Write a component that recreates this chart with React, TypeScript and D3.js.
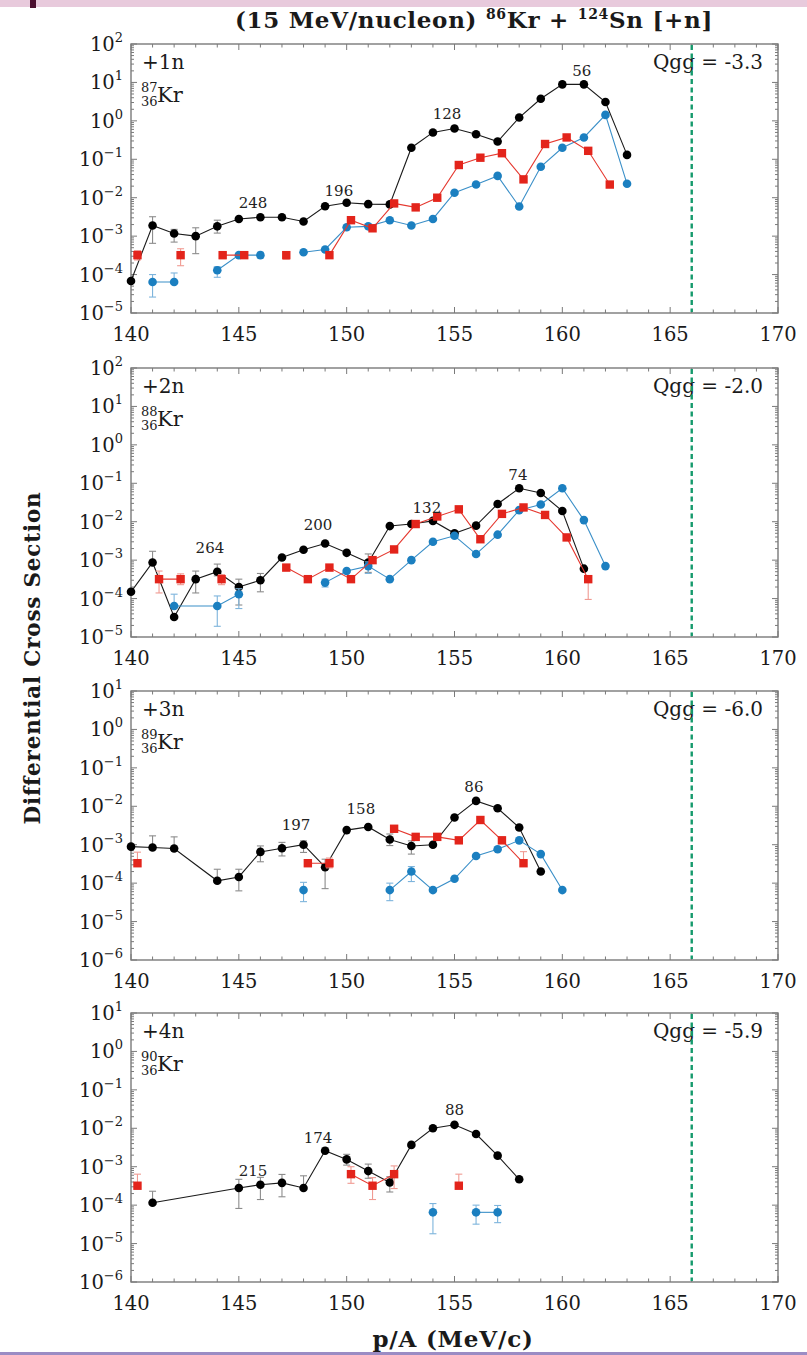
import React from 'react';
import * as d3 from 'd3';

type Pt = [number, number, (number | null)?, (number | null)?] | null;

// ---- data: [p/A, value, errLow, errHigh], null = line break ----
const black1: Pt[] = [
  [140, 6.8e-5], [141, 1.9e-3, 6.5e-4, 3.2e-3], [142, 1.17e-3, 7e-4, 1.5e-3], [143, 1.0e-3, 3.5e-4, 1.65e-3],
  [144, 1.8e-3, 1.2e-3, 2.6e-3], [145, 2.8e-3], [146, 3.1e-3], [147, 3.1e-3], [148, 2.4e-3], [149, 6.0e-3],
  [150, 7.4e-3], [151, 6.8e-3], [152, 6.7e-3], [153, 0.2], [154, 0.5], [155, 0.63], [156, 0.45], [157, 0.29],
  [158, 1.22], [159, 3.75], [160, 8.9], [161, 8.9], [162, 3.1], [163, 0.13],
];
const red1: Pt[] = [
  [140.3, 3.2e-4, 2.4e-4, 4.2e-4], null, [142.3, 3.2e-4, 1.7e-4, 4.7e-4], null,
  [144.25, 3.2e-4, 2.6e-4, 3.8e-4], [145.25, 3.2e-4], null, [147.2, 3.2e-4, 2.5e-4, 3.9e-4], null,
  [149.2, 3.2e-4], [150.2, 2.6e-3], [151.2, 1.6e-3], [152.2, 7.1e-3], [153.2, 5.6e-3], [154.2, 1.0e-2],
  [155.2, 7.1e-2], [156.2, 0.11], [157.2, 0.144], [158.2, 3.0e-2], [159.2, 0.25], [160.2, 0.37],
  [161.2, 0.166], [162.2, 2.2e-2],
];
const blue1: Pt[] = [
  [141, 6.4e-5, 2.6e-5, 1.0e-4], [142, 6.4e-5, null, 1.1e-4], null, [144, 1.3e-4, 8.5e-5, 1.6e-4],
  [145, 3.2e-4], [146, 3.2e-4, 2.7e-4, 3.8e-4], null, [148, 3.8e-4], [149, 4.5e-4], [150, 1.7e-3],
  [151, 1.8e-3], [152, 2.6e-3], [153, 1.9e-3], [154, 2.8e-3], [155, 1.35e-2], [156, 2.2e-2], [157, 3.7e-2],
  [158, 5.9e-3], [159, 6.4e-2], [160, 0.2], [161, 0.37], [162, 1.43], [163, 2.3e-2],
];
const labels1: [number, number, string][] = [[145.66, 5.4e-3, '248'], [149.64, 1.1e-2, '196'], [154.65, 1.1, '128'], [160.9, 14.7, '56']];

const black2: Pt[] = [
  [140, 1.5e-4], [141, 8.7e-4, null, 1.7e-3], [142, 3.3e-5], [143, 3.2e-4, 1.4e-4, 5.2e-4],
  [144, 5e-4, 3.9e-4, 7.9e-4], [145, 2e-4, 6.8e-5, 3.2e-4], [146, 3e-4, 1.5e-4, 4.5e-4], [147, 1.17e-3],
  [148, 1.86e-3], [149, 2.7e-3], [150, 1.55e-3], [151, 8.7e-4, 4.8e-4, 1.45e-3], [152, 7.7e-3], [153, 8.7e-3],
  [154, 1.05e-2], [155, 5e-3], [156, 7.9e-3], [157, 2.9e-2], [158, 7.4e-2], [159, 5.6e-2], [160, 1.9e-2],
  [161, 6e-4],
];
const red2: Pt[] = [
  [141.3, 3.2e-4, 1.4e-4, 5.2e-4], [142.3, 3.2e-4, 2.3e-4, 4.4e-4], null, [144.2, 3.2e-4, 2.3e-4, 4.2e-4], null,
  [147.2, 6.4e-4], [148.2, 3.2e-4], [149.2, 6.4e-4], [150.2, 3.2e-4], [151.2, 1e-3], [152.2, 1.9e-3],
  [153.2, 8.7e-3], [154.2, 1.37e-2], [155.2, 2.1e-2], [156.2, 3.5e-3], [157.2, 1.6e-2], [158.2, 2.35e-2],
  [159.2, 1.5e-2], [160.2, 3.9e-3], [161.2, 3.2e-4, 9.5e-5, null],
];
const blue2: Pt[] = [
  [142, 6.4e-5, null, 1.3e-4], [144, 6.4e-5, 1.9e-5, 1.17e-4], [145, 1.3e-4, 5.5e-5, 1.8e-4], null,
  [149, 2.6e-4, 2e-4, 3.2e-4], [150, 5.2e-4], [151, 7e-4, 4.5e-4, 9e-4], [152, 3.2e-4], [153, 1e-3],
  [154, 3e-3], [155, 4.3e-3], [156, 1.44e-3], [157, 4.6e-3], [158, 2e-2], [159, 2.8e-2], [160, 7.4e-2],
  [161, 1.1e-2], [162, 7e-4],
];
const labels2: [number, number, string][] = [[143.66, 1.55e-3, '264'], [148.67, 6.1e-3, '200'], [153.72, 1.7e-2, '132'], [157.94, 0.122, '74']];

const black3: Pt[] = [
  [140, 8.9e-4], [141, 8.5e-4, null, 1.7e-3], [142, 8e-4, null, 1.6e-3], [144, 1.15e-4, null, 2.3e-4],
  [145, 1.45e-4, 6.3e-5, 2.3e-4], [146, 6.5e-4, 3.6e-4, 9.3e-4], [147, 8.1e-4, 5.1e-4, 1.15e-3],
  [148, 1e-3, 6.3e-4, 1.26e-3], [149, 2.6e-4, 7.2e-5, 4.2e-4], [150, 2.4e-3], [151, 2.9e-3],
  [152, 1.37e-3, 9.5e-4, 1.9e-3], [153, 9.3e-4, 5.7e-4, 1.26e-3], [154, 1e-3], [155, 5.1e-3], [156, 1.38e-2],
  [157, 8.9e-3], [158, 2.8e-3], [159, 2e-4],
];
const red3: Pt[] = [
  [140.3, 3.3e-4, null, 6.4e-4], null, [148.2, 3.3e-4], [149.2, 3.3e-4, 2.5e-4, 4.5e-4], null,
  [152.2, 2.6e-3], [153.2, 1.6e-3], [154.2, 1.6e-3], [155.2, 1.3e-3], [156.2, 4.4e-3],
  [157.2, 1.3e-3, null, 1.6e-3], [158.2, 3.3e-4, null, 6.6e-4],
];
const blue3: Pt[] = [
  [148, 6.6e-5, 3.3e-5, 1.05e-4], null, [152, 6.6e-5, 3.5e-5, 1.0e-4], [153, 2e-4, 1.1e-4, 2.7e-4],
  [154, 6.6e-5], [155, 1.3e-4], [156, 5.1e-4], [157, 7.6e-4], [158, 1.3e-3], [159, 5.7e-4], [160, 6.6e-5],
];
const labels3: [number, number, string][] = [[147.65, 2.4e-3, '197'], [150.66, 6.3e-3, '158'], [155.9, 2.35e-2, '86']];

const black4: Pt[] = [
  [141, 1.15e-4, null, 2.3e-4], [145, 2.8e-4, 8.2e-5, 4.7e-4], [146, 3.4e-4, 1.4e-4, 5.3e-4],
  [147, 3.8e-4, 1.65e-4, 6.3e-4], [148, 2.8e-4, null, 5.8e-4], [149, 2.6e-3, null, 3.1e-3],
  [150, 1.55e-3, 1.1e-3, 2.1e-3], [151, 7.7e-4, 5e-4, 1.17e-3], [152, 3.9e-4, 2.2e-4, 5.5e-4], [153, 3.7e-3],
  [154, 1e-2], [155, 1.23e-2], [156, 7.1e-3], [157, 1.94e-3], [158, 4.7e-4],
];
const red4: Pt[] = [
  [140.3, 3.2e-4, null, 6.4e-4], null, [150.2, 6.4e-4, 3.7e-4, 1.0e-3], [151.2, 3.2e-4, 1.4e-4, 5.2e-4],
  [152.2, 6.4e-4, 2.7e-4, 1.05e-3], null, [155.2, 3.2e-4, null, 6.4e-4],
];
const blue4: Pt[] = [
  [154, 6.5e-5, 1.8e-5, 1.1e-4], null, [156, 6.5e-5, 3.2e-5, 1.0e-4], [157, 6.5e-5, 3.5e-5, 9.8e-5],
];
const labels4: [number, number, string][] = [[145.66, 5.8e-4, '215'], [148.67, 4.2e-3, '174'], [155.0, 2.2e-2, '88']];

const tags = ['+1n', '+2n', '+3n', '+4n'];
const masses = ['87', '88', '89', '90'];
const qggValues = ['-3.3', '-2.0', '-6.0', '-5.9'];
const yMaxExp = [2, 2, 1, 1];
const yMinExp = [-5, -5, -6, -6];
const xTicks = [140, 145, 150, 155, 160, 165, 170];
const qggLine = 166;

// ---- layout ----
const W = 807, H = 1355;
const X0 = 131, X1 = 778;
const tops = [44, 368, 691, 1013];
const PH = 269;
const FONT = '"DejaVu Serif", "Liberation Serif", serif';

const COLORS = {
  black: { m: '#000000', l: '#1a1a1a', e: '#8c8c8c' },
  red: { m: '#e3241b', l: '#e5382f', e: '#f09a92' },
  blue: { m: '#1b7fc0', l: '#3a8fc8', e: '#7db4dc' },
};

const sup = (n: number) => (n < 0 ? '\u2212' + Math.abs(n) : String(n));

function Series({ data, x, y, kind }: { data: Pt[]; x: any; y: any; kind: 'black' | 'red' | 'blue' }) {
  const c = COLORS[kind];
  const line = d3.line<Pt>().defined((d) => d !== null).x((d) => x(d![0])).y((d) => y(d![1]));
  const pts = data.filter((d) => d !== null) as [number, number, (number | null)?, (number | null)?][];
  return (
    <g>
      {pts.map((d, i) => {
        const lo = d[2] ?? null, hi = d[3] ?? null;
        if (lo === null && hi === null) return null;
        const cx = x(d[0]);
        const y1 = y(lo ?? d[1]);
        const y2 = y(hi ?? d[1]);
        return (
          <g key={'e' + i} stroke={c.e} strokeWidth={1.1}>
            <line x1={cx} x2={cx} y1={y1} y2={y2} />
            {lo !== null && <line x1={cx - 3.5} x2={cx + 3.5} y1={y1} y2={y1} />}
            {hi !== null && <line x1={cx - 3.5} x2={cx + 3.5} y1={y2} y2={y2} />}
          </g>
        );
      })}
      <path d={line(data) || ''} fill="none" stroke={c.l} strokeWidth={1.1} />
      {pts.map((d, i) =>
        kind === 'red' ? (
          <rect key={'m' + i} x={x(d[0]) - 4.2} y={y(d[1]) - 4.2} width={8.4} height={8.4} fill={c.m} />
        ) : (
          <circle key={'m' + i} cx={x(d[0])} cy={y(d[1])} r={4.3} fill={c.m} />
        )
      )}
    </g>
  );
}

const allBlack = [black1, black2, black3, black4];
const allRed = [red1, red2, red3, red4];
const allBlue = [blue1, blue2, blue3, blue4];
const allLabels = [labels1, labels2, labels3, labels4];

function Panel({ i }: { i: number }) {
  const top = tops[i];
  const bottom = top + PH;
  const x = d3.scaleLinear().domain([140, 170]).range([X0, X1]);
  const y = d3.scaleLog().domain([Math.pow(10, yMinExp[i]), Math.pow(10, yMaxExp[i])]).range([bottom, top]);
  const exps = d3.range(yMinExp[i], yMaxExp[i] + 1);
  const minors: number[] = [];
  exps.slice(0, -1).forEach((e) => {
    for (let k = 2; k <= 9; k++) minors.push(k * Math.pow(10, e));
  });
  const xMinor = d3.range(140, 171, 1);
  const frame = '#7a7a7a';
  return (
    <g>
      <g stroke={frame} strokeWidth={1}>
        {xMinor.map((v) => {
          const len = v % 5 === 0 ? 6 : 3.5;
          return (
            <g key={'xt' + v}>
              <line x1={x(v)} x2={x(v)} y1={bottom} y2={bottom - len} />
              <line x1={x(v)} x2={x(v)} y1={top} y2={top + len} />
            </g>
          );
        })}
        {exps.map((e) => {
          const yy = y(Math.pow(10, e));
          return (
            <g key={'yt' + e}>
              <line x1={X0} x2={X0 + 6} y1={yy} y2={yy} />
              <line x1={X1} x2={X1 - 6} y1={yy} y2={yy} />
            </g>
          );
        })}
        {minors.map((v, k) => (
          <g key={'ym' + k}>
            <line x1={X0} x2={X0 + 3} y1={y(v)} y2={y(v)} />
            <line x1={X1} x2={X1 - 3} y1={y(v)} y2={y(v)} />
          </g>
        ))}
      </g>
      <rect x={X0} y={top} width={X1 - X0} height={PH} fill="none" stroke={frame} strokeWidth={1.4} />
      <g fontFamily={FONT} fill="#1a1a1a">
        {exps.map((e) => (
          <text key={'yl' + e} x={123} y={y(Math.pow(10, e)) + 7} textAnchor="end" fontSize={19.5}>
            10<tspan dy={-9} fontSize={13}>{sup(e)}</tspan>
          </text>
        ))}
        {xTicks.map((v) => (
          <text key={'xl' + v} x={x(v)} y={bottom + 28} textAnchor="middle" fontSize={19.5}>
            {v}
          </text>
        ))}
      </g>
      <Series data={allBlack[i]} x={x} y={y} kind="black" />
      <Series data={allBlue[i]} x={x} y={y} kind="blue" />
      <Series data={allRed[i]} x={x} y={y} kind="red" />
      <g fontFamily={FONT} fill="#222" fontSize={15}>
        {allLabels[i].map(([lx, ly, t]) => (
          <text key={'a' + t} x={x(lx)} y={y(ly)} textAnchor="middle">
            {t}
          </text>
        ))}
      </g>
      <g fontFamily={FONT} fill="#1a1a1a">
        <text x={142} y={top + 25} fontSize={20}>{tags[i]}</text>
        <text x={141} y={top + 48} fontSize={13}>{masses[i]}</text>
        <text x={141} y={top + 62} fontSize={13}>36</text>
        <text x={157} y={top + 58} fontSize={21}>Kr</text>
        <text x={763} y={top + 25} fontSize={20} textAnchor="end">{'Qgg = ' + qggValues[i]}</text>
      </g>
      <line x1={x(qggLine)} x2={x(qggLine)} y1={top + 1} y2={bottom - 1} stroke="#159a6c" strokeWidth={2.4} strokeDasharray="5,3.5" />
    </g>
  );
}

export default function App() {
  return (
    <svg width={W} height={H} viewBox={`0 0 ${W} ${H}`} style={{ position: 'absolute', left: 0, top: 0, background: '#fff' }}>
      <rect x={0} y={0} width={W} height={H} fill="#ffffff" />
      <rect x={0} y={0} width={W} height={7} fill="#e8cadc" />
      <rect x={30} y={0} width={6} height={8} fill="#4b0f30" />
      <text x={474} y={28} textAnchor="middle" fontFamily={FONT} fontWeight="bold" fontSize={23} letterSpacing={0.7} fill="#1a1a1a">
        {'(15 MeV/nucleon) '}
        <tspan dy={-9} fontSize={14}>86</tspan>
        <tspan dy={9}>{'Kr + '}</tspan>
        <tspan dy={-9} fontSize={14}>124</tspan>
        <tspan dy={9}>{'Sn [+n]'}</tspan>
      </text>
      {tops.map((_, i) => (
        <Panel key={i} i={i} />
      ))}
      <text transform="translate(40,658) rotate(-90)" textAnchor="middle" fontFamily={FONT} fontWeight="bold" fontSize={21.5} letterSpacing={0.8} fill="#1a1a1a">
        Differential Cross Section
      </text>
      <text x={453} y={1347} textAnchor="middle" fontFamily={FONT} fontWeight="bold" fontSize={23} letterSpacing={0.8} fill="#1a1a1a">
        p/A (MeV/c)
      </text>
      <rect x={0} y={1352} width={W} height={3} fill="#9b8cc4" />
    </svg>
  );
}
